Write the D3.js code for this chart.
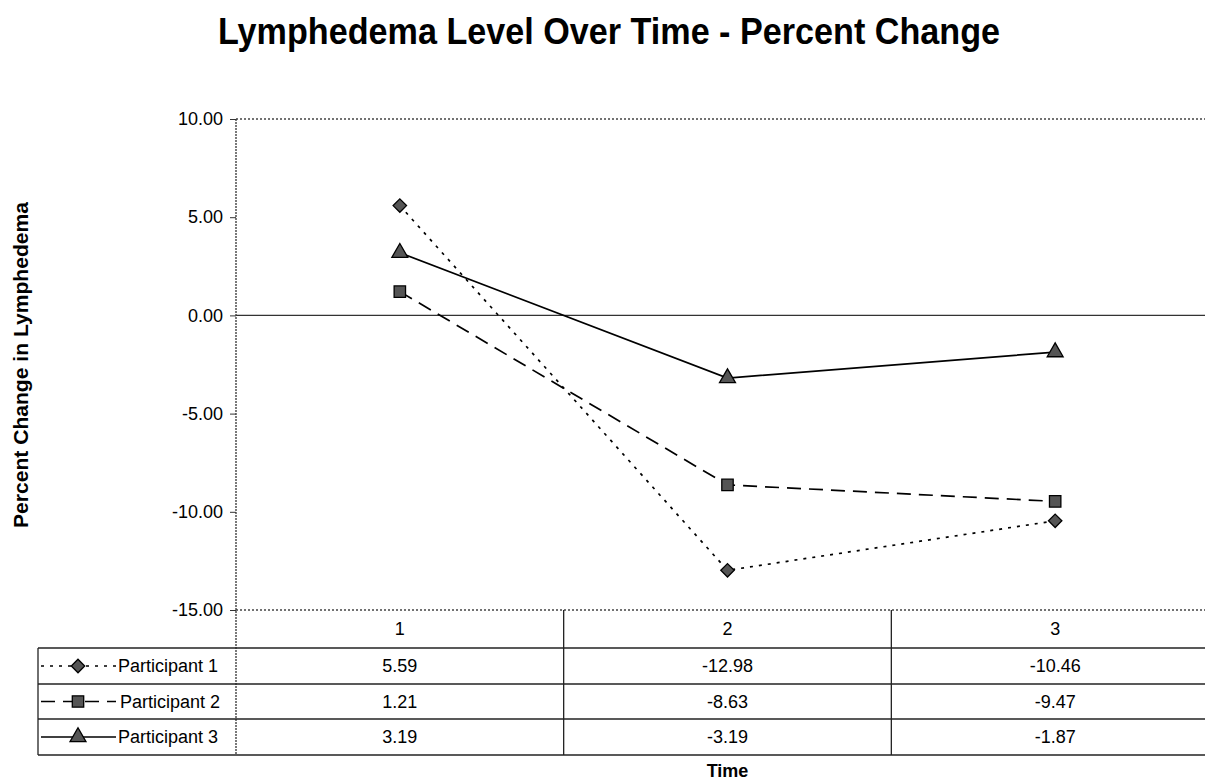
<!DOCTYPE html>
<html>
<head>
<meta charset="utf-8">
<script src="https://cdn.jsdelivr.net/npm/d3@7"></script>
<style>
  body { margin: 0; background: #fff; }
  svg { display: block; font-family: Arial, "Liberation Sans", sans-serif; }
</style>
</head>
<body>
<svg id="chart" width="1205" height="781"></svg>
<script>
// Chart data
const categories = ["1", "2", "3"];
const seriesNames = ["Participant 1", "Participant 2", "Participant 3"];
const participant1 = [5.59, -12.98, -10.46];
const participant2 = [1.21, -8.63, -9.47];
const participant3 = [3.19, -3.19, -1.87];
const yTicks = [10, 5, 0, -5, -10, -15];

const fmt = v => v.toFixed(2);
const diamond = { draw(ctx, size) { const r = Math.sqrt(size) / Math.SQRT2; ctx.moveTo(0, -r); ctx.lineTo(r, 0); ctx.lineTo(0, r); ctx.lineTo(-r, 0); ctx.closePath(); } };

const series = [
  { name: seriesNames[0], values: participant1, dash: "3,6", symbol: diamond, size: 90 },
  { name: seriesNames[1], values: participant2, dash: "14,8", symbol: d3.symbolSquare, size: 130 },
  { name: seriesNames[2], values: participant3, dash: null, symbol: d3.symbolTriangle, size: 110 }
];

const svg = d3.select("#chart");
const plot = { left: 236, right: 1219, top: 119, bottom: 610 };

const x = d3.scaleBand().domain(categories).range([plot.left, plot.right]);
const y = d3.scaleLinear().domain([-15, 10]).range([plot.bottom, plot.top]);
const cx = c => x(c) + x.bandwidth() / 2;

// Title
svg.append("text")
  .attr("x", 609).attr("y", 44)
  .attr("text-anchor", "middle")
  .attr("font-size", 36).attr("font-weight", "bold")
  .attr("textLength", 782).attr("lengthAdjust", "spacingAndGlyphs")
  .text("Lymphedema Level Over Time - Percent Change");

// Y axis label
svg.append("text")
  .attr("transform", "translate(28,365) rotate(-90)")
  .attr("text-anchor", "middle")
  .attr("font-size", 21).attr("font-weight", "bold")
  .attr("textLength", 326).attr("lengthAdjust", "spacingAndGlyphs")
  .text("Percent Change in Lymphedema");

// Plot top and bottom borders (dotted)
[10, -15].forEach(v => {
  svg.append("line")
    .attr("x1", plot.left).attr("x2", plot.right)
    .attr("y1", y(v)).attr("y2", y(v))
    .attr("stroke", "#444").attr("stroke-width", 1.3).attr("stroke-dasharray", "2,2");
});

// Y axis
const yAxis = d3.axisLeft(y).tickValues(yTicks).tickFormat(fmt).tickSize(6).tickPadding(7);
const gy = svg.append("g").attr("transform", `translate(${plot.left},0)`).call(yAxis);
gy.select(".domain").remove();
gy.attr("font-size", null).attr("font-family", null);
gy.selectAll("text").attr("font-size", 18).attr("fill", "#000");
gy.selectAll(".tick line").attr("stroke", "#333");
svg.append("line")
  .attr("x1", plot.left).attr("x2", plot.left)
  .attr("y1", plot.top).attr("y2", 755)
  .attr("stroke", "#333").attr("stroke-width", 1.3).attr("stroke-dasharray", "2,1");

// Zero line
svg.append("line")
  .attr("x1", plot.left).attr("x2", plot.right)
  .attr("y1", y(0)).attr("y2", y(0))
  .attr("stroke", "#333").attr("stroke-width", 1.2);

// Series lines
const line = d3.line().x((d, i) => cx(categories[i])).y(d => y(d));
series.forEach(s => {
  svg.append("path")
    .datum(s.values)
    .attr("d", line)
    .attr("fill", "none")
    .attr("stroke", "#000")
    .attr("stroke-width", 1.7)
    .attr("stroke-dasharray", s.dash);
});

// Markers
series.forEach(s => {
  svg.selectAll(null)
    .data(s.values)
    .enter().append("path")
    .attr("d", d3.symbol().type(s.symbol).size(s.size))
    .attr("transform", (d, i) => `translate(${cx(categories[i])},${y(d)})`)
    .attr("fill", "#555").attr("stroke", "#000").attr("stroke-width", 1.3);
});

// Data table
const rowTops = [610, 648, 684, 719, 755];
const tableLeft = 38;

// header category labels
categories.forEach(c => {
  svg.append("text")
    .attr("x", cx(c)).attr("y", (rowTops[0] + rowTops[1]) / 2 + 6)
    .attr("text-anchor", "middle").attr("font-size", 18)
    .text(c);
});

// horizontal table lines
rowTops.slice(1).forEach(t => {
  svg.append("line")
    .attr("x1", tableLeft).attr("x2", plot.right)
    .attr("y1", t).attr("y2", t)
    .attr("stroke", "#222").attr("stroke-width", 1.3);
});
// vertical lines
svg.append("line")
  .attr("x1", tableLeft).attr("x2", tableLeft)
  .attr("y1", rowTops[1]).attr("y2", rowTops[4])
  .attr("stroke", "#222").attr("stroke-width", 1.3);
categories.slice(1).forEach(c => {
  svg.append("line")
    .attr("x1", x(c)).attr("x2", x(c))
    .attr("y1", plot.bottom).attr("y2", rowTops[4])
    .attr("stroke", "#222").attr("stroke-width", 1.3);
});

// rows: legend key, name, values
series.forEach((s, r) => {
  const top = rowTops[r + 1], bot = rowTops[r + 2];
  const mid = (top + bot) / 2;
  svg.append("line")
    .attr("x1", 41).attr("x2", 116)
    .attr("y1", mid).attr("y2", mid)
    .attr("stroke", "#000").attr("stroke-width", 1.7)
    .attr("stroke-dasharray", s.dash);
  svg.append("path")
    .attr("d", d3.symbol().type(s.symbol).size(s.size))
    .attr("transform", `translate(78,${mid})`)
    .attr("fill", "#555").attr("stroke", "#000").attr("stroke-width", 1.3);
  svg.append("text")
    .attr("x", r === 1 ? 120 : 118).attr("y", mid + 6)
    .attr("font-size", 18)
    .text(s.name);
  s.values.forEach((v, i) => {
    svg.append("text")
      .attr("x", cx(categories[i])).attr("y", mid + 6)
      .attr("text-anchor", "middle").attr("font-size", 18)
      .text(fmt(v));
  });
});

// X axis label
svg.append("text")
  .attr("x", cx("2")).attr("y", 777)
  .attr("text-anchor", "middle")
  .attr("font-size", 18).attr("font-weight", "bold")
  .text("Time");
</script>
</body>
</html>
